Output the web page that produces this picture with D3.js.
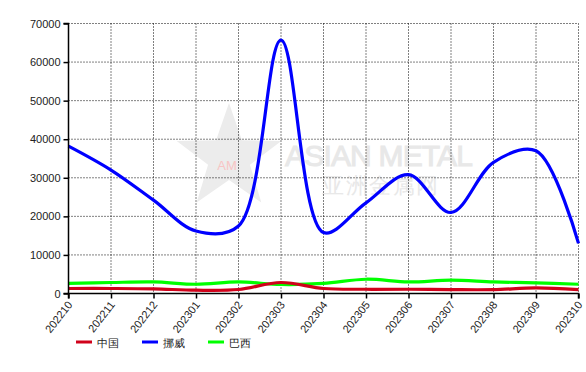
<!DOCTYPE html>
<html><head><meta charset="utf-8">
<script src="https://cdn.jsdelivr.net/npm/d3@7/dist/d3.min.js"></script>
<style>body{margin:0;background:#fff;}text{font-family:Arial,"Liberation Sans",sans-serif;}</style>
</head><body><svg id="c" width="586" height="372"></svg>
<script>
const months = ["202210","202211","202212","202301","202302","202303","202304","202305","202306","202307","202308","202309","202310"];
const seriesNames = ["中国","挪威","巴西"];
const china  = [1300,1300,1200,850,1030,2850,1300,1100,1100,1000,1000,1450,1000];
const norway = [38200,32000,24200,16200,17500,65700,15800,23500,30800,21000,34000,37000,13000];
const brazil = [2600,2850,3000,2400,3000,2330,2600,3700,3000,3450,3000,2750,2400];
const yTicks = [0,10000,20000,30000,40000,50000,60000,70000];
const colors = ["#d0021b","#0000ff","#00ff00"];

const svg = d3.select("#c");
const L=68.5, R=578.5, T=23.5, B=293.5;
const x = d3.scalePoint().domain(months).range([L,R]);
const y = d3.scaleLinear().domain([0,70000]).range([B,T]);

// watermark
const wm = svg.append("g");
const cx=229, cy=158, ro=55, ri=22;
const pts=[];
for(let i=0;i<10;i++){const a=-Math.PI/2+i*Math.PI/5;const r=i%2?ri:ro;pts.push([cx+r*Math.cos(a),cy+r*Math.sin(a)]);}
wm.append("polygon").attr("points",pts.map(p=>p.join(",")).join(" ")).attr("fill","#ececec");
wm.append("text").attr("x",227).attr("y",170).attr("text-anchor","middle").attr("font-size",13).attr("fill","#f8c4c4").text("AM");
wm.append("text").attr("x",285).attr("y",166).attr("font-size",30).attr("fill","#e8e8e8").attr("stroke","#e8e8e8").attr("stroke-width",1).attr("textLength",188).text("ASIAN METAL");
wm.append("text").attr("x",322).attr("y",193).attr("font-size",22).attr("fill","#e8e8e8").attr("font-family","'Noto Sans CJK SC'").attr("textLength",116).text("亚洲金属网");

// grid
const g = svg.append("g");
g.selectAll(".hg").data(yTicks.filter(d=>d>0)).join("line")
 .attr("x1",L).attr("x2",R).attr("y1",d=>y(d)).attr("y2",d=>y(d))
 .attr("stroke","#000").attr("stroke-dasharray","1,2");
g.selectAll(".vg").data(months.slice(1)).join("line")
 .attr("x1",d=>x(d)).attr("x2",d=>x(d)).attr("y1",T).attr("y2",B)
 .attr("stroke","#000").attr("stroke-dasharray","1,2");

// lines
const line = d3.line().x((d,i)=>x(months[i])).y(d=>y(d)).curve(d3.curveCatmullRom.alpha(0.5));
const data=[china,norway,brazil];
[2,1,0].forEach(k=>{
  svg.append("path").attr("d",line(data[k])).attr("fill","none").attr("stroke",colors[k]).attr("stroke-width",3.2).attr("stroke-linejoin","round");
});

// axes
const ya = svg.append("g").attr("transform",`translate(${L},0)`).call(d3.axisLeft(y).tickValues(yTicks).tickSize(5).tickFormat(d3.format("d")));
const xa = svg.append("g").attr("transform",`translate(0,${B})`).call(d3.axisBottom(x).tickSize(5));
[ya,xa].forEach(a=>{a.select(".domain").attr("stroke","#000").attr("stroke-width",1.5);a.selectAll("line").attr("stroke","#000").attr("stroke-width",1.5);a.selectAll("text").attr("font-size",11).attr("fill","#222").attr("font-family","Arial,'Liberation Sans',sans-serif");});
ya.select(".domain").attr("d",`M-5,${B}H0V${T}H-5`);
xa.select(".domain").attr("d",`M${L},5V0H${R}V5`);
xa.selectAll(".tick text").attr("text-anchor","end").attr("y",0).attr("x",0).attr("dy","0.35em")
  .attr("transform","translate(1,9) rotate(-52)");

// legend
const lg = svg.append("g");
seriesNames.forEach((n,i)=>{
  const lx=76+i*66;
  lg.append("line").attr("x1",lx).attr("x2",lx+16).attr("y1",342).attr("y2",342).attr("stroke",colors[i]).attr("stroke-width",3);
  lg.append("text").attr("x",lx+21).attr("y",346.5).attr("font-size",11).attr("fill","#222").attr("font-family","'Noto Sans CJK SC'").text(n);
});
</script></body></html>
